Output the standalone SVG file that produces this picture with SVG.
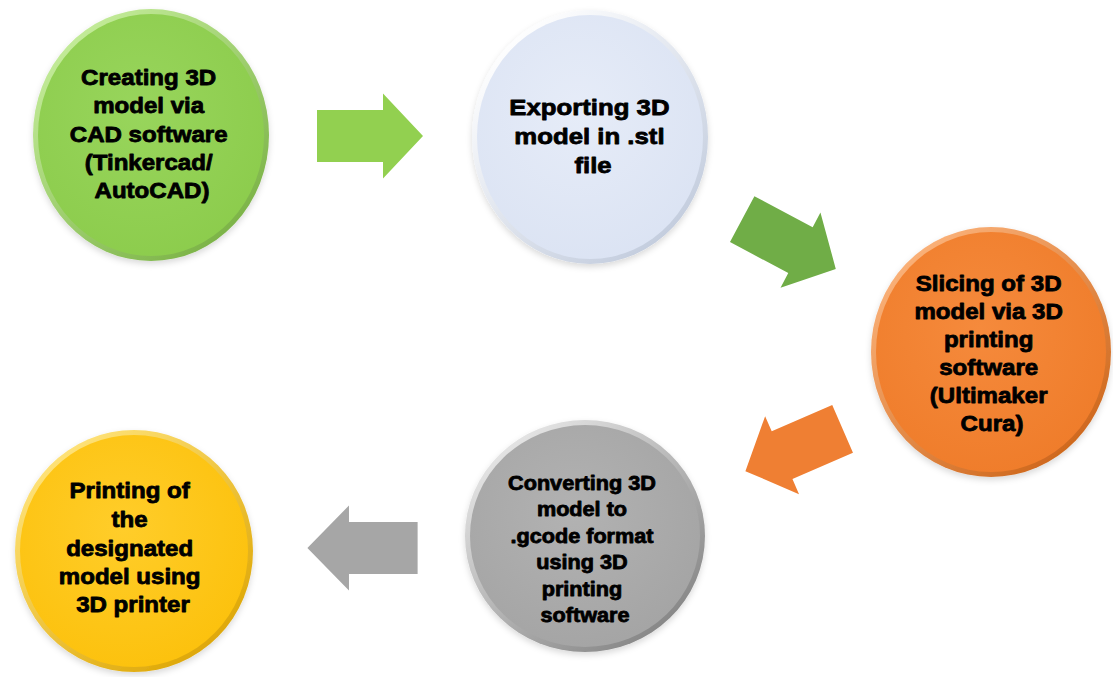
<svg xmlns="http://www.w3.org/2000/svg" width="1113" height="677" viewBox="0 0 1113 677">
  <defs>
    <style>
      .lbl { font-family: "Liberation Sans", Arial, sans-serif; font-weight: bold; fill: #000; stroke: #000; stroke-width: 0.8; stroke-linejoin: round; text-anchor: middle; }
      .arrow { stroke: none; }
    </style>
    <!-- bevel rim: light top-left, darker bottom-right -->
    <linearGradient id="rimG" x1="0.15" y1="0.1" x2="0.85" y2="0.95">
      <stop offset="0" stop-color="#c4ec9a"/>
      <stop offset="1" stop-color="#78b043"/>
    </linearGradient>
    <radialGradient id="faceG" cx="0.45" cy="0.4" r="0.65">
      <stop offset="0" stop-color="#98d55c"/>
      <stop offset="1" stop-color="#8ccc4c"/>
    </radialGradient>
    <linearGradient id="rimB" x1="0.15" y1="0.1" x2="0.85" y2="0.95">
      <stop offset="0" stop-color="#ffffff"/>
      <stop offset="1" stop-color="#c0cadc"/>
    </linearGradient>
    <radialGradient id="faceB" cx="0.45" cy="0.4" r="0.65">
      <stop offset="0" stop-color="#e6ecf8"/>
      <stop offset="1" stop-color="#dbe3f3"/>
    </radialGradient>
    <linearGradient id="rimO" x1="0.15" y1="0.1" x2="0.85" y2="0.95">
      <stop offset="0" stop-color="#fbb27a"/>
      <stop offset="1" stop-color="#cc6418"/>
    </linearGradient>
    <radialGradient id="faceO" cx="0.45" cy="0.4" r="0.65">
      <stop offset="0" stop-color="#f58a3c"/>
      <stop offset="1" stop-color="#ef7c2a"/>
    </radialGradient>
    <linearGradient id="rimY" x1="0.15" y1="0.1" x2="0.85" y2="0.95">
      <stop offset="0" stop-color="#ffe37a"/>
      <stop offset="1" stop-color="#dca400"/>
    </linearGradient>
    <radialGradient id="faceY" cx="0.45" cy="0.4" r="0.65">
      <stop offset="0" stop-color="#ffcd2a"/>
      <stop offset="1" stop-color="#fcc10c"/>
    </radialGradient>
    <linearGradient id="rimS" x1="0.15" y1="0.1" x2="0.85" y2="0.95">
      <stop offset="0" stop-color="#e6e6e6"/>
      <stop offset="1" stop-color="#828282"/>
    </linearGradient>
    <radialGradient id="faceS" cx="0.45" cy="0.4" r="0.65">
      <stop offset="0" stop-color="#b2b2b2"/>
      <stop offset="1" stop-color="#a4a4a4"/>
    </radialGradient>
    <filter id="soft" x="-10%" y="-10%" width="120%" height="125%">
      <feDropShadow dx="0" dy="3" stdDeviation="3" flood-color="#000" flood-opacity="0.15"/>
    </filter>
    <!-- block arrow pointing right, centred on the origin -->
    <polygon id="blockArrow" points="-53,-26 13,-26 13,-42.5 53,0 13,42.5 13,26 -53,26"/>
  </defs>

  <rect width="1113" height="677" fill="#ffffff"/>

  <!-- connectors -->
  <g id="connectors">
    <use href="#blockArrow" class="arrow" fill="#92d050" transform="translate(370,136)"/>
    <use href="#blockArrow" class="arrow" fill="#70ad47" transform="translate(789,244) rotate(28)"/>
    <use href="#blockArrow" class="arrow" fill="#ef7f33" transform="translate(794,450) rotate(156.5)"/>
    <use href="#blockArrow" class="arrow" fill="#a6a6a6" transform="translate(362.5,548) rotate(180) scale(1.04,1)"/>
  </g>

  <!-- step 1 -->
  <g id="node-create">
    <ellipse cx="151" cy="135" rx="118" ry="126" fill="url(#rimG)" filter="url(#soft)"/>
    <ellipse cx="151" cy="135" rx="113" ry="121" fill="url(#faceG)"/>
    <text class="lbl" font-size="21.5" transform="translate(152,0) scale(1.12,1)">
      <tspan x="0" y="85">Creating 3D</tspan>
      <tspan x="0" y="113">model via</tspan>
      <tspan x="0" y="142">CAD software</tspan>
      <tspan x="0" y="170">(Tinkercad/</tspan>
      <tspan x="0" y="198">AutoCAD)</tspan>
    </text>
  </g>

  <!-- step 2 -->
  <g id="node-export">
    <ellipse cx="590" cy="137" rx="118" ry="127" fill="url(#rimB)" filter="url(#soft)"/>
    <ellipse cx="590" cy="137" rx="113" ry="122" fill="url(#faceB)"/>
    <text class="lbl" font-size="23" transform="translate(593,0) scale(1.12,1)">
      <tspan x="0" y="115">Exporting 3D</tspan>
      <tspan x="0" y="144">model in .stl</tspan>
      <tspan x="0" y="173">file</tspan>
    </text>
  </g>

  <!-- step 3 -->
  <g id="node-slice">
    <ellipse cx="991" cy="352" rx="120" ry="125" fill="url(#rimO)" filter="url(#soft)"/>
    <ellipse cx="991" cy="352" rx="115" ry="120" fill="url(#faceO)"/>
    <text class="lbl" font-size="21.5" transform="translate(992,0) scale(1.12,1)">
      <tspan x="0" y="291">Slicing of 3D</tspan>
      <tspan x="0" y="319">model via 3D</tspan>
      <tspan x="0" y="347">printing</tspan>
      <tspan x="0" y="375">software</tspan>
      <tspan x="0" y="403">(Ultimaker</tspan>
      <tspan x="0" y="431">Cura)</tspan>
    </text>
  </g>

  <!-- step 4 -->
  <g id="node-convert">
    <ellipse cx="585" cy="536" rx="120" ry="116" fill="url(#rimS)" filter="url(#soft)"/>
    <ellipse cx="585" cy="536" rx="115" ry="111" fill="url(#faceS)"/>
    <text class="lbl" font-size="19.5" transform="translate(585,0) scale(1.11,1)">
      <tspan x="0" y="490">Converting 3D</tspan>
      <tspan x="0" y="516">model to</tspan>
      <tspan x="0" y="543">.gcode format</tspan>
      <tspan x="0" y="569">using 3D</tspan>
      <tspan x="0" y="596">printing</tspan>
      <tspan x="0" y="622">software</tspan>
    </text>
  </g>

  <!-- step 5 -->
  <g id="node-print">
    <ellipse cx="134" cy="551" rx="119" ry="121" fill="url(#rimY)" filter="url(#soft)"/>
    <ellipse cx="134" cy="551" rx="114" ry="116" fill="url(#faceY)"/>
    <text class="lbl" font-size="21.5" transform="translate(133,0) scale(1.12,1)">
      <tspan x="0" y="498">Printing of</tspan>
      <tspan x="0" y="527">the</tspan>
      <tspan x="0" y="556">designated</tspan>
      <tspan x="0" y="584">model using</tspan>
      <tspan x="0" y="612">3D printer</tspan>
    </text>
  </g>
</svg>
